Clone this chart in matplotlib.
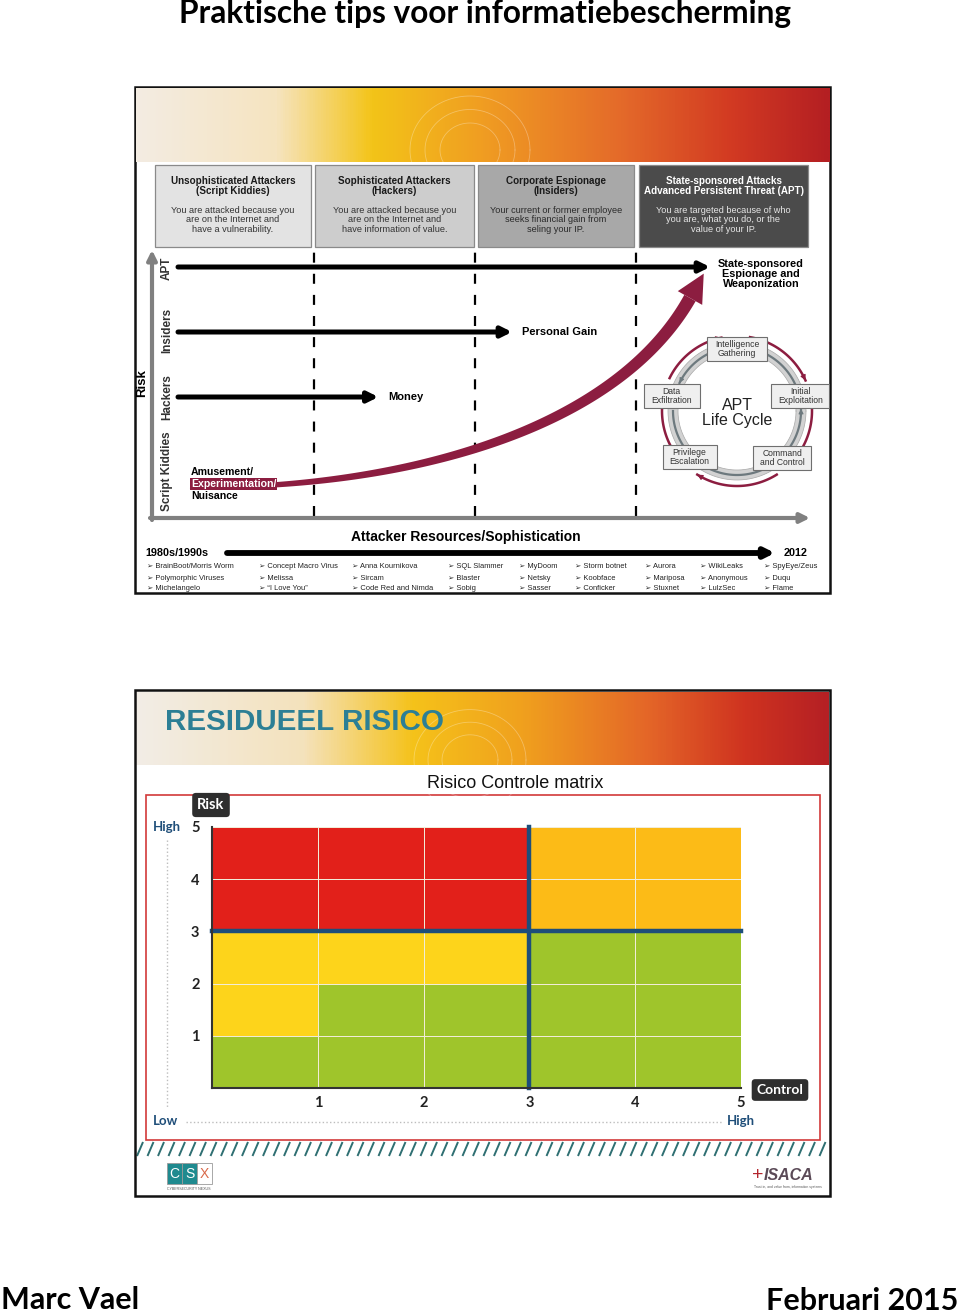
import numpy as np
import matplotlib
matplotlib.use("Agg")
import matplotlib.pyplot as plt
from matplotlib import font_manager
from matplotlib.colors import LinearSegmentedColormap, ListedColormap
from matplotlib.patches import Rectangle, Polygon
from matplotlib.collections import LineCollection

W, H = 960, 1316

_names = {f.name for f in font_manager.fontManager.ttflist}
NARROW = "Liberation Sans Narrow" if "Liberation Sans Narrow" in _names else "Liberation Sans"
SLIDE = "Lato"
ARIAL = "Liberation Sans"

# ---- risk / control matrix ----
control_ticks = [1, 2, 3, 4, 5]
risk_ticks = [1, 2, 3, 4, 5]
# zone per cell, bottom row (risk 0-1) first; 0 green, 1 yellow, 2 amber, 3 red
zone_rows = [
    [0, 0, 0, 0, 0],
    [1, 0, 0, 0, 0],
    [1, 1, 1, 0, 0],
    [3, 3, 3, 2, 2],
    [3, 3, 3, 2, 2],
]
zone_colors = ["#9fc52b", "#fdd41b", "#fcbb17", "#e2201a"]
control_threshold = 3
risk_threshold = 3

# ---- attacker diagram ----
attacker_titles = [
    "Unsophisticated Attackers\n(Script Kiddies)",
    "Sophisticated Attackers\n(Hackers)",
    "Corporate Espionage\n(Insiders)",
    "State-sponsored Attacks\nAdvanced Persistent Threat (APT)",
]
attacker_texts = [
    "You are attacked because you\nare on the Internet and\nhave a vulnerability.",
    "You are attacked because you\nare on the Internet and\nhave information of value.",
    "Your current or former employee\nseeks financial gain from\nseling your IP.",
    "You are targeted because of who\nyou are, what you do, or the\nvalue of your IP.",
]
box_fill = ["#e3e3e3", "#cdcdcd", "#a8a8a8", "#4b4b4b"]
box_title_col = ["#1a1a1a", "#1a1a1a", "#1a1a1a", "#ffffff"]
box_text_col = ["#333333", "#333333", "#2a2a2a", "#e6e6e6"]

attacker_levels = ["Script Kiddies", "Hackers", "Insiders", "APT"]
level_label_y = [0.86, 2.0, 3.03, 3.98]
motivation_reach = [None, 1.40, 2.23, 3.46]
motivations = ["", "Money", "Personal Gain", "State-sponsored\nEspionage and\nWeaponization"]

eras = ["1980s/1990s", "2012"]
threat_examples = [
    ["BrainBoot/Morris Worm", "Polymorphic Viruses", "Michelangelo"],
    ["Concept Macro Virus", "Melissa", "\u201cI Love You\u201d"],
    ["Anna Kournikova", "Sircam", "Code Red and Nimda"],
    ["SQL Slammer", "Blaster", "Sobig"],
    ["MyDoom", "Netsky", "Sasser"],
    ["Storm botnet", "Koobface", "Conficker"],
    ["Aurora", "Mariposa", "Stuxnet"],
    ["WikiLeaks", "Anonymous", "LulzSec"],
    ["SpyEye/Zeus", "Duqu", "Flame"],
]
example_x = [147, 259, 352, 448, 519, 575, 645, 700, 764]

lifecycle_steps = ["Intelligence\nGathering", "Initial\nExploitation", "Command\nand Control",
                   "Privilege\nEscalation", "Data\nExfiltration"]
lifecycle_angles = [90, 13, -46, -136, 167]
lifecycle_box_w = [60, 58, 58, 54, 56]

MAROON = "#8c1d40"

fig = plt.figure(figsize=(W / 100, H / 100), dpi=100)
bg = fig.add_axes([0, 0, 1, 1])
bg.axis("off")


def place(x0, y0, x1, y1):
    return fig.add_axes([x0 / W, 1 - y1 / H, (x1 - x0) / W, (y1 - y0) / H])


# page texts
bg.text(485, 13, "Praktische tips voor informatiebescherming", ha="center", va="center",
        fontsize=22.8, fontweight="bold", family=SLIDE)
bg.text(1, 1300, "Marc Vael", ha="left", va="center", fontsize=22, fontweight="bold", family=SLIDE)
bg.text(958, 1301, "Februari 2015", ha="right", va="center", fontsize=22, fontweight="bold", family=SLIDE)

grad = np.linspace(0, 1, 600)[None, :]
banner1 = LinearSegmentedColormap.from_list("b1", [
    (0, "#f3ece2"), (0.2, "#f6e4c0"), (0.34, "#f3c418"), (0.5, "#f09d22"),
    (0.7, "#e46a2a"), (0.86, "#d23a22"), (1, "#b41f22")])
banner2 = LinearSegmentedColormap.from_list("b2", [
    (0, "#f2ede6"), (0.24, "#f4e2bc"), (0.4, "#f5c21a"), (0.56, "#f0a01e"),
    (0.74, "#e46628"), (0.88, "#cf3320"), (1, "#b52024")])

# ================= top panel =================
PX0, PY0, SPX, LPX = 153, 527, 161, 65


def u(px, py):
    return (np.asarray(px, float) - PX0) / SPX, (PY0 - np.asarray(py, float)) / LPX


ax_d = place(135, 87, 830, 593)
ax_d.axis("off")
xl = (u(136, 0)[0], u(829, 0)[0])
ax_d.imshow(grad, extent=(xl[0], xl[1], u(0, 162)[1], u(0, 88)[1]), aspect="auto", cmap=banner1, zorder=0)

# faint globe arcs on the banner
for r in (30, 45, 60):
    t = np.linspace(0, 2 * np.pi, 200)
    gx, gy = u(470 + r * np.cos(t), 150 + r * 0.9 * np.sin(t))
    ax_d.plot(gx, gy, color="white", lw=0.6, alpha=0.3, zorder=1)

box_left = [155, 315, 478, 639]
box_right = [311, 474, 634, 808]
for i in range(4):
    x0, y0 = u(box_left[i], 247)
    x1, y1 = u(box_right[i], 165)
    ax_d.add_patch(Rectangle((x0, y0), x1 - x0, y1 - y0, fc=box_fill[i], ec="#8a8a8a", lw=0.9, zorder=2))
    cx = (x0 + x1) / 2
    ax_d.text(cx, u(0, 186)[1], attacker_titles[i], ha="center", va="center", fontsize=7.1,
              fontweight="bold", family=NARROW, color=box_title_col[i], linespacing=1.1, zorder=3)
    ax_d.text(cx, u(0, 220)[1], attacker_texts[i], ha="center", va="center", fontsize=6.6,
              family=NARROW, color=box_text_col[i], linespacing=1.05, zorder=3)

# axes of the diagram
ax_d.annotate("", xy=u(152, 250), xytext=u(152, 520),
              arrowprops=dict(arrowstyle="-|>", color="#808080", lw=3, mutation_scale=14, shrinkA=0, shrinkB=0))
ax_d.annotate("", xy=u(810, 518), xytext=u(150, 518),
              arrowprops=dict(arrowstyle="-|>", color="#808080", lw=3, mutation_scale=14, shrinkA=0, shrinkB=0))
ax_d.text(*u(142, 383), "Risk", rotation=90, ha="center", va="center", fontsize=9.5,
          fontweight="bold", family=NARROW, color="black")

for s in (1, 2, 3):
    ax_d.plot([s, s], [u(0, 516)[1], u(0, 249)[1]], color="black", lw=1.6, dashes=(4.5, 5))

for i, name in enumerate(attacker_levels):
    ax_d.text(u(167, 0)[0], level_label_y[i], name, rotation=90, ha="center", va="center",
              fontsize=8.5, fontweight="bold", family=NARROW, color="#333333")
    if motivation_reach[i] is not None:
        lvl = i + 1
        ax_d.annotate("", xy=(motivation_reach[i], lvl), xytext=(u(178, 0)[0], lvl),
                      arrowprops=dict(arrowstyle="-|>", color="black", lw=3.6, mutation_scale=15,
                                      shrinkA=0, shrinkB=0))

ax_d.text(motivation_reach[1] + 0.06, 2, motivations[1], ha="left", va="center", fontsize=8,
          fontweight="bold", family=NARROW)
ax_d.text(motivation_reach[2] + 0.06, 3, motivations[2], ha="left", va="center", fontsize=8,
          fontweight="bold", family=NARROW)
ax_d.text(*u(761, 274), motivations[3], ha="center", va="center", fontsize=7.8,
          fontweight="bold", family=NARROW, linespacing=1.05)

# rising maroon curve (tapered)
P = np.array([[190, 487], [380, 490], [610, 440], [690, 298]], float)
t = np.linspace(0, 1, 200)[:, None]
pts = ((1 - t) ** 3) * P[0] + 3 * ((1 - t) ** 2) * t * P[1] + 3 * (1 - t) * t ** 2 * P[2] + t ** 3 * P[3]
d = 3 * ((1 - t) ** 2) * (P[1] - P[0]) + 6 * (1 - t) * t * (P[2] - P[1]) + 3 * t ** 2 * (P[3] - P[2])
d = d / np.linalg.norm(d, axis=1, keepdims=True)
nrm = np.column_stack([-d[:, 1], d[:, 0]])
hw = (2.0 + 4.5 * t[:, 0])[:, None]
side_a = pts + nrm * hw
side_b = pts - nrm * hw
outline = np.vstack([side_a, side_b[::-1]])
ox, oy = u(outline[:, 0], outline[:, 1])
ax_d.add_patch(Polygon(np.column_stack([ox, oy]), closed=True, fc=MAROON, ec="none", zorder=4))
tip = P[3] + d[-1] * 28
base_l = P[3] + nrm[-1] * 14
base_r = P[3] - nrm[-1] * 14
hx, hy = u([tip[0], base_l[0], base_r[0]], [tip[1], base_l[1], base_r[1]])
ax_d.add_patch(Polygon(np.column_stack([hx, hy]), closed=True, fc=MAROON, ec="none", zorder=4))

ax_d.text(*u(191, 472), "Amusement/", ha="left", va="center", fontsize=7.6, fontweight="bold",
          family=NARROW, zorder=5)
ax_d.text(*u(191, 484), "Experimentation/", ha="left", va="center", fontsize=7.6, fontweight="bold",
          family=NARROW, color="white", zorder=5,
          bbox=dict(boxstyle="square,pad=0.05", fc=MAROON, ec="none"))
ax_d.text(*u(191, 496), "Nuisance", ha="left", va="center", fontsize=7.6, fontweight="bold",
          family=NARROW, zorder=5)

# APT life cycle
cx, cy = 737, 411


def ring(r, a0, a1, n=60):
    a = np.radians(np.linspace(a0, a1, n))
    return u(cx + r * np.cos(a), cy - r * np.sin(a))


rx, ry = ring(64, 0, 360, 240)
ax_d.plot(rx, ry, color="#d2d2d2", lw=7, zorder=5, solid_capstyle="butt")
for rr in (59, 69):
    rx, ry = ring(rr, 0, 360, 240)
    ax_d.plot(rx, ry, color="#a5a5a5", lw=0.5, zorder=5)

maroon_arcs = [(80, 24), (2, -34), (-58, -122), (-148, -197), (154, 102)]
grey_arcs = [(100, 154), (180, 224), (-124, -58), (-36, 2), (24, 80)]
for a0, a1 in maroon_arcs:
    ax, ay = ring(75, a0, a1)
    ax_d.plot(ax, ay, color=MAROON, lw=1.8, zorder=5)
    ax_d.annotate("", xy=(ax[-1], ay[-1]), xytext=(ax[-4], ay[-4]),
                  arrowprops=dict(arrowstyle="-|>", color=MAROON, lw=0.8, mutation_scale=8,
                                  shrinkA=0, shrinkB=0), zorder=5)
for a0, a1 in grey_arcs:
    ax, ay = ring(64, a0, a1)
    ax_d.plot(ax, ay, color="#6d797e", lw=1.6, zorder=6)
    ax_d.annotate("", xy=(ax[-1], ay[-1]), xytext=(ax[-4], ay[-4]),
                  arrowprops=dict(arrowstyle="-|>", color="#6d797e", lw=0.8, mutation_scale=7,
                                  shrinkA=0, shrinkB=0), zorder=6)

box_r = [62, 65, 65, 66, 67]
for i, step in enumerate(lifecycle_steps):
    a = np.radians(lifecycle_angles[i])
    bx = cx + box_r[i] * np.cos(a)
    by = cy - box_r[i] * np.sin(a)
    x0, y0 = u(bx - lifecycle_box_w[i] / 2, by + 12)
    x1, y1 = u(bx + lifecycle_box_w[i] / 2, by - 12)
    ax_d.add_patch(Rectangle((x0, y0), x1 - x0, y1 - y0, fc="#efefef", ec="#6f6f6f", lw=0.8, zorder=7))
    ax_d.text(*u(bx, by), step, ha="center", va="center", fontsize=6.2, family=NARROW,
              color="#333333", linespacing=1.0, zorder=8)
ax_d.text(*u(737, 413), "APT\nLife Cycle", ha="center", va="center", fontsize=11.5, family=NARROW,
          color="#222222", linespacing=1.0, zorder=8)

# bottom timeline
ax_d.text(*u(466, 537), "Attacker Resources/Sophistication", ha="center", va="center", fontsize=10,
          fontweight="bold", family=NARROW)
ax_d.text(*u(145, 553), eras[0], ha="left", va="center", fontsize=7.8, fontweight="bold", family=NARROW)
ax_d.text(*u(796, 553), eras[1], ha="center", va="center", fontsize=7.8, fontweight="bold", family=NARROW)
ax_d.annotate("", xy=u(775, 553), xytext=u(227, 553),
              arrowprops=dict(arrowstyle="-|>", color="black", lw=4.2, mutation_scale=14, shrinkA=0, shrinkB=0))
for col, xs in zip(threat_examples, example_x):
    for j, item in enumerate(col):
        ax_d.text(*u(xs, 567 + 11 * j), "\u27a2 " + item, ha="left", va="center", fontsize=5.4,
                  family=[NARROW, "DejaVu Sans"], color="#222222", clip_on=True)

ax_d.set_xlim(u(135, 0)[0], u(830, 0)[0])
ax_d.set_ylim(u(0, 593)[1], u(0, 87)[1])

bg.add_patch(Rectangle((135, 87), 695, 506, fill=False, ec="#111111", lw=1.8, zorder=10))

# ================= bottom panel =================
bg.imshow(grad, extent=(136, 829, 765, 692), aspect="auto", cmap=banner2, zorder=0)
for r in (28, 42, 56):
    tt = np.linspace(0, 2 * np.pi, 200)
    bg.plot(470 + r * np.cos(tt), 760 + r * 0.9 * np.sin(tt), color="white", lw=0.6, alpha=0.3,
            clip_path=Rectangle((136, 692), 693, 73, transform=bg.transData))
bg.text(165, 722, "RESIDUEEL RISICO", ha="left", va="center", fontsize=21.3, fontweight="bold",
        family=ARIAL, color="#2c7f95")
bg.text(515, 783, "Risico Controle matrix", ha="center", va="center", fontsize=13, family=ARIAL,
        color="#111111")
bg.add_patch(Rectangle((146, 795), 674, 345, fill=False, ec="#d23a3a", lw=1.2))

ax_m = place(212, 827, 741, 1088)
ax_m.pcolormesh(np.arange(6), np.arange(6), np.array(zone_rows), cmap=ListedColormap(zone_colors),
                vmin=-0.5, vmax=3.5, edgecolors="#f1ecd8", linewidth=0.7)
ax_m.plot([control_threshold, control_threshold], [0, 5], color="#1d4e7a", lw=3.2, clip_on=False)
ax_m.plot([0, 5], [risk_threshold, risk_threshold], color="#1d4e7a", lw=3.2, clip_on=False)
ax_m.set_xlim(0, 5)
ax_m.set_ylim(0, 5)
ax_m.set_xticks(control_ticks)
ax_m.set_yticks(risk_ticks)
ax_m.tick_params(length=0, labelsize=10.5, colors="#222222")
ax_m.tick_params(axis="x", pad=6)
ax_m.tick_params(axis="y", pad=9)
for lab in ax_m.get_xticklabels() + ax_m.get_yticklabels():
    lab.set_fontweight("bold")
    lab.set_family(SLIDE)
for side in ("top", "right"):
    ax_m.spines[side].set_visible(False)
for side in ("left", "bottom"):
    ax_m.spines[side].set_color("#333333")
    ax_m.spines[side].set_linewidth(1.5)

BLUE = "#1f4e79"
bg.text(167, 827, "High", ha="center", va="center", fontsize=9.5, fontweight="bold", family=SLIDE, color=BLUE)
bg.text(165, 1121, "Low", ha="center", va="center", fontsize=9.5, fontweight="bold", family=SLIDE, color=BLUE)
bg.text(741, 1121, "High", ha="center", va="center", fontsize=9.5, fontweight="bold", family=SLIDE, color=BLUE)
bg.plot([186, 722], [1122, 1122], color="#bdbdbd", lw=1, ls=":")
bg.plot([167, 167], [840, 1108], color="#bdbdbd", lw=1, ls=":")
badge = dict(boxstyle="round,pad=0.35,rounding_size=0.25", fc="#2e2e2e", ec="none")
bg.text(211, 805, "Risk", ha="center", va="center", fontsize=10.5, fontweight="bold", family=SLIDE,
        color="white", bbox=badge)
bg.text(780, 1090, "Control", ha="center", va="center", fontsize=10, fontweight="bold", family=SLIDE,
        color="white", bbox=badge)

# hatch stripe
xs = np.arange(137, 826, 10.5)
segs = [[(x, 1156), (x + 6, 1142)] for x in xs]
bg.add_collection(LineCollection(segs, colors="#2f6f72", linewidths=1.4))

# logos
for k, (ch, fc, tc) in enumerate([("C", "#1f8a8f", "white"), ("S", "#1f8a8f", "white"), ("X", "white", "#d9694a")]):
    bg.add_patch(Rectangle((167 + 15 * k, 1163), 15, 21, fc=fc, ec="#9a9a9a", lw=0.6))
    bg.text(174.5 + 15 * k, 1173.5, ch, ha="center", va="center", fontsize=10, family=NARROW, color=tc)
bg.text(189, 1189, "CYBERSECURITY NEXUS", ha="center", va="center", fontsize=2.6, family=ARIAL, color="#555555")
bg.text(758, 1175, "+", ha="center", va="center", fontsize=14, family=ARIAL, color="#b3262e")
bg.text(789, 1175, "ISACA", ha="center", va="center", fontsize=11.5, fontweight="bold", style="italic",
        family=ARIAL, color="#5b4a57")
bg.text(788, 1187, "Trust in, and value from, information systems", ha="center", va="center",
        fontsize=2.4, family=ARIAL, color="#555555")

bg.add_patch(Rectangle((135, 690), 695, 506, fill=False, ec="#111111", lw=1.8, zorder=10))

bg.set_xlim(0, W)
bg.set_ylim(H, 0)

fig.savefig("out.png", dpi=100)
